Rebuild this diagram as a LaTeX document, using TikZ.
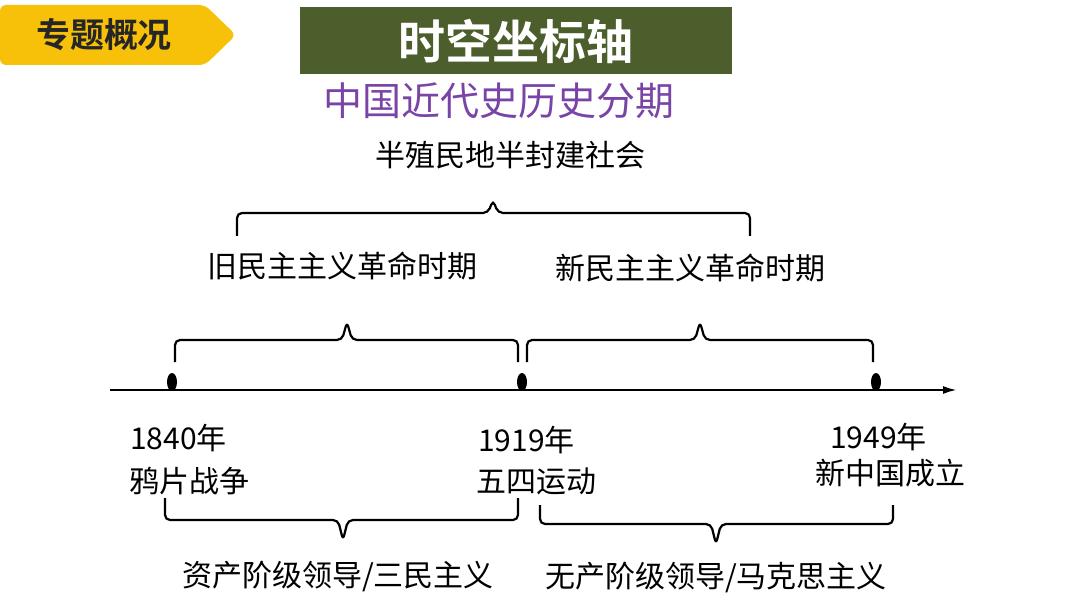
\documentclass[tikz,border=0pt]{standalone}
\usepackage{fontspec}
\setmainfont{Noto Sans CJK SC}
\newfontfamily\cjkb{Noto Sans CJK SC Bold}
\usetikzlibrary{arrows.meta,shapes.geometric}
\definecolor{tagy}{HTML}{F7C10A}
\definecolor{boxg}{HTML}{4B5E2B}
\definecolor{purp}{HTML}{7A44A6}
\tikzset{
  lbl/.style={inner sep=0pt, font=\fontsize{30}{32}\selectfont},
  brc/.style={line width=2.2pt, rounded corners=5pt},
  dot/.style={ellipse, fill=black, minimum width=10pt, minimum height=18pt, inner sep=0pt}
}
\begin{document}
\begin{tikzpicture}[x=1pt,y=-1pt]
\useasboundingbox (0,0) rectangle (1080,607);
% tag
\fill[tagy, rounded corners=6pt] (0,5) -- (205,5) -- (236,35) -- (205,65) -- (0,65) -- cycle;
\node[inner sep=0pt, font=\fontsize{34}{36}\selectfont\cjkb, text=black!85] (tag) at (104,35) {专题概况};
% title box
\node[fill=boxg, minimum width=432pt, minimum height=67pt, inner sep=0pt, text=white, font=\fontsize{47}{49}\selectfont\cjkb] (title) at (516,41) {时空坐标轴};
\node[inner sep=0pt, text=purp, font=\fontsize{39}{41}\selectfont] (sub) at (499,101) {中国近代史历史分期};
\node[lbl] (soc) at (510,155) {半殖民地半封建社会};
% top brace
\draw[brc] (237,236) -- (237,213) -- (488,213) -- (493,200) -- (498,213) -- (750,213) -- (750,236);
\node[lbl] (old) at (342,266) {旧民主主义革命时期};
\node[lbl] (new) at (690,268) {新民主主义革命时期};
% middle braces
\draw[brc] (175,362) -- (175,340) -- (342,340) -- (347,322) -- (352,340) -- (518,340) -- (518,362);
\draw[brc] (527,362) -- (527,340) -- (695,340) -- (700,322) -- (705,340) -- (873,340) -- (873,362);
% axis
\coordinate (a0) at (110,390);
\coordinate (a1) at (957,390);
\draw[line width=2.2pt, -{Latex[length=14pt,width=8pt]}] (a0) -- (a1);
\node[dot] (d1) at (172,382) {};
\node[dot] (d2) at (522,382) {};
\node[dot] (d3) at (876,382) {};
% year labels
\node[lbl, anchor=west] (y1) at (130,438) {1840年};
\node[lbl, anchor=west] (e1) at (129,481) {鸦片战争};
\node[lbl, anchor=west] (y2) at (478,440) {1919年};
\node[lbl, anchor=west] (e2) at (476,481) {五四运动};
\node[lbl, anchor=west] (y3) at (830,437) {1949年};
\node[lbl, anchor=west] (e3) at (815,473) {新中国成立};
% bottom braces
\draw[brc] (165,498) -- (165,520) -- (338,520) -- (343,540) -- (348,520) -- (518,520) -- (518,498);
\draw[brc] (540,505) -- (540,524) -- (711,524) -- (716,544) -- (721,524) -- (893,524) -- (893,505);
\node[lbl] (b1) at (338,577) {资产阶级领导/三民主义};
\node[lbl] (b2) at (716,578) {无产阶级领导/马克思主义};
\end{tikzpicture}
\end{document}
